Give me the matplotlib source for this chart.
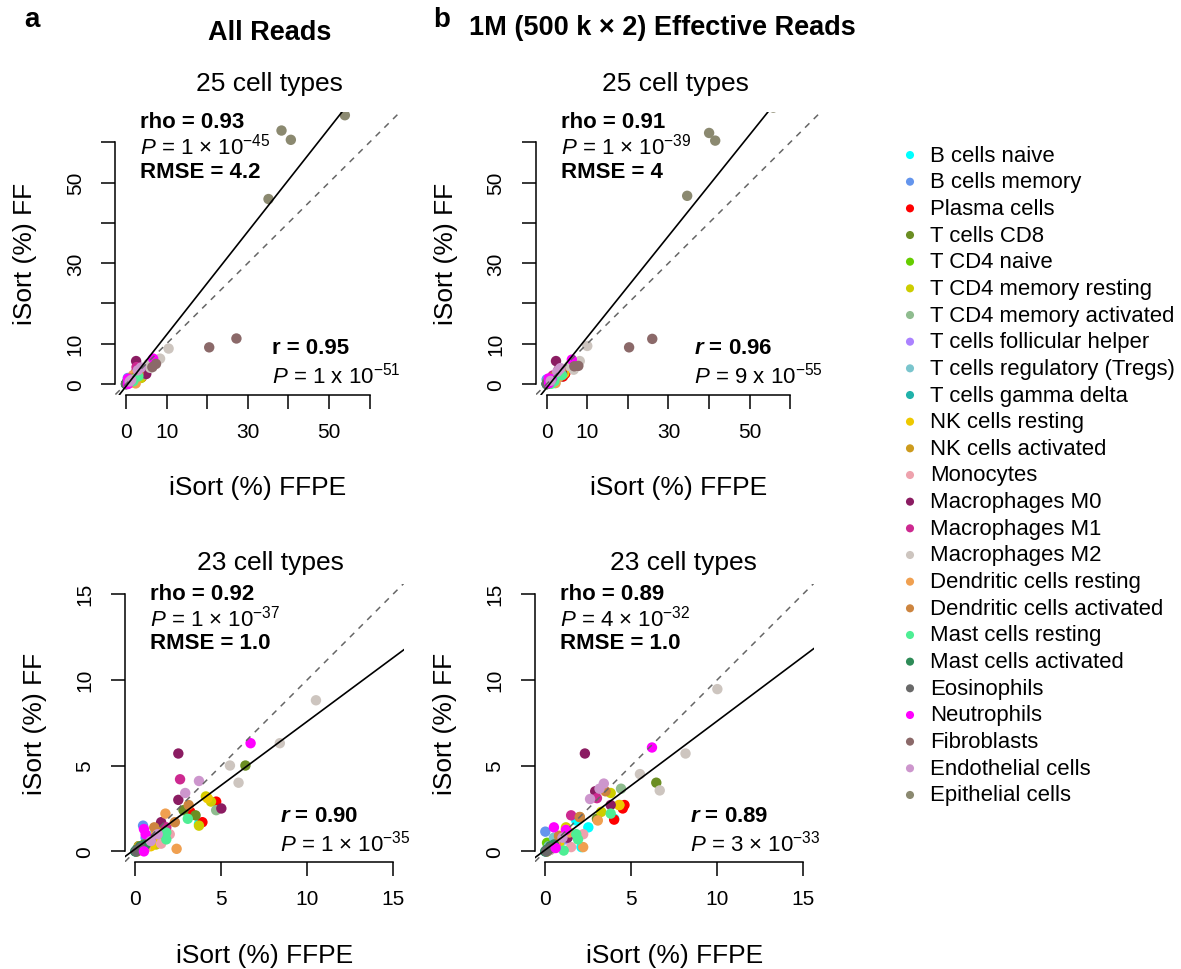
import numpy as np
import matplotlib
matplotlib.use("Agg")
import matplotlib.pyplot as plt

plt.rcParams['font.family'] = ['Liberation Sans', 'DejaVu Sans']
plt.rcParams['mathtext.fontset'] = 'custom'
plt.rcParams['mathtext.rm'] = 'Liberation Sans'
plt.rcParams['mathtext.it'] = 'Liberation Sans:italic'
plt.rcParams['mathtext.bf'] = 'Liberation Sans:bold'
plt.rcParams['mathtext.bfit'] = 'Liberation Sans:italic:bold'

cell_types = ["B cells naive", "B cells memory", "Plasma cells", "T cells CD8",
              "T CD4 naive", "T CD4 memory resting", "T CD4 memory activated",
              "T cells follicular helper", "T cells regulatory (Tregs)",
              "T cells gamma delta", "NK cells resting", "NK cells activated",
              "Monocytes", "Macrophages M0", "Macrophages M1", "Macrophages M2",
              "Dendritic cells resting", "Dendritic cells activated",
              "Mast cells resting", "Mast cells activated", "Eosinophils",
              "Neutrophils", "Fibroblasts", "Endothelial cells", "Epithelial cells"]
colors = ["#00FFFF", "#6495ED", "#FF0000", "#6B8E23", "#66CD00", "#CDCD00",
          "#8FBC8F", "#AB82FF", "#7AC5CD", "#20B2AA", "#EEC900", "#CD9B1D",
          "#EEA2AD", "#8B1C62", "#CD2990", "#CDC5BF", "#F0A050", "#CD853F",
          "#4EEE94", "#2E8B57", "#696969", "#FF00FF", "#8B6969", "#CD96CD",
          "#8B8970"]
# cell types left out of the 23-type panels
dropped = ["Fibroblasts", "Epithelial cells"]

# all reads: iSort (%) FFPE (x) and FF (y), 4 samples per cell type
ffpe_all = [[3.7, 1.0, 0.3, 0.1], [0.45, 0.2, 0.6, 0.1], [4.7, 3.2, 3.9, 0.3],
            [6.4, 2.8, 3.5, 0.5], [0.2, 0.1, 0.4, 0.05], [4.1, 4.4, 3.7, 1.2],
            [4.7, 0.3, 1.5, 0.1], [1.5, 0.8, 0.3, 0.1], [1.0, 0.5, 0.2, 0.1],
            [0.3, 0.1, 0.5, 0.0], [4.2, 1.3, 0.9, 0.3], [1.5, 0.6, 0.2, 0.1],
            [1.5, 0.6, 0.3, 2.0], [2.5, 2.5, 5.0, 1.5], [2.6, 0.9, 0.4, 1.8],
            [10.5, 8.4, 5.5, 6.0], [1.75, 2.4, 0.6, 1.2], [3.1, 2.3, 1.1, 0.4],
            [3.05, 1.8, 1.8, 0.5], [0.3, 0.1, 0.6, 0.0], [0.1, 0.2, 0.05, 0.3],
            [6.7, 0.5, 0.5, 0.6], [27.2, 20.5, 7.4, 6.5], [3.7, 2.9, 1.3, 0.9],
            [53.9, 38.3, 40.6, 35.1]]
ff_all = [[1.6, 0.9, 0.2, 0.05], [1.5, 0.3, 0.8, 0.1], [2.9, 2.3, 1.7, 0.2],
          [5.0, 2.4, 2.1, 0.4], [0.3, 0.1, 0.2, 0.0], [3.2, 2.9, 1.5, 0.4],
          [2.4, 0.3, 0.9, 0.1], [0.8, 0.5, 0.2, 0.1], [0.6, 0.3, 0.2, 0.0],
          [0.1, 0.1, 0.3, 0.0], [3.1, 0.6, 0.3, 0.2], [1.4, 0.4, 0.3, 0.0],
          [0.45, 0.2, 0.1, 1.0], [5.7, 3.0, 2.5, 1.7], [4.2, 0.7, 0.3, 1.4],
          [8.8, 6.3, 5.0, 4.0], [2.2, 0.15, 0.3, 1.1], [2.7, 1.7, 1.4, 0.2],
          [1.9, 1.1, 0.7, 0.3], [0.3, 0.1, 0.4, 0.0], [0.05, 0.1, 0.0, 0.2],
          [6.3, 1.3, 0.0, 1.0], [11.3, 9.1, 5.0, 4.2], [4.1, 3.4, 1.0, 0.6],
          [66.7, 62.9, 60.6, 45.9]]

# 1M effective reads
ffpe_1m = [[2.5, 1.8, 2.1, 4.0], [0.0, 0.3, 0.2, 0.1], [4.6, 4.5, 4.0, 0.3],
           [6.45, 3.0, 0.4, 0.1], [0.1, 0.2, 0.05, 0.3], [3.8, 4.3, 3.25, 1.2],
           [4.4, 0.5, 0.2, 0.1], [1.2, 0.6, 0.3, 0.1], [0.9, 0.5, 0.2, 0.1],
           [0.3, 0.1, 0.5, 0.0], [4.3, 1.2, 0.8, 0.4], [2.0, 0.8, 0.3, 0.1],
           [1.5, 0.6, 0.3, 2.2], [2.3, 2.9, 3.8, 1.3], [3.0, 1.5, 0.6, 0.3],
           [10.0, 8.15, 5.5, 6.65], [3.05, 2.2, 0.6, 1.4], [3.5, 2.0, 0.8, 0.3],
           [3.8, 1.8, 1.9, 1.07], [0.3, 0.1, 0.5, 0.0], [0.1, 0.2, 0.05, 0.3],
           [6.2, 0.5, 1.2, 0.6], [26.0, 20.3, 7.8, 6.8], [3.4, 3.15, 2.6, 1.0],
           [55.8, 40.0, 41.5, 34.6]]
ff_1m = [[1.4, 1.8, 0.25, 1.9], [1.15, 0.5, 0.2, 0.05], [2.7, 2.5, 1.85, 0.2],
         [4.0, 1.9, 0.3, 0.05], [0.5, 0.2, 0.05, 0.3], [3.4, 2.7, 2.3, 1.4],
         [3.65, 0.3, 0.2, 0.0], [0.7, 0.4, 0.15, 0.05], [0.6, 0.8, 0.3, 0.0],
         [0.1, 0.1, 0.3, 0.0], [2.7, 1.3, 0.5, 0.2], [2.0, 0.9, 0.3, 0.0],
         [0.25, 0.2, 0.1, 1.0], [5.7, 3.5, 2.7, 0.8], [3.1, 2.1, 0.4, 0.2],
         [9.45, 5.7, 4.5, 3.55], [1.8, 0.25, 0.4, 1.1], [3.5, 2.0, 0.9, 0.2],
         [2.2, 1.0, 0.7, 0.05], [0.3, 0.1, 0.4, 0.0], [0.05, 0.1, 0.0, 0.2],
         [6.05, 1.4, 1.25, 0.2], [11.2, 9.1, 4.5, 4.4], [3.95, 3.65, 3.05, 0.8],
         [68.6, 62.3, 60.4, 46.7]]

# fitted lines (slope, intercept) and statistics shown on each panel
fits = {"a25": (1.28, -0.58), "b25": (1.256, -0.93),
        "a23": (0.743, 0.145), "b23": (0.751, 0.09)}
stats = {
    "a25": ("0.93", "1 \u00d7 10$^{-45}$", "4.2", "0.95", "1 x 10$^{-51}$", False),
    "b25": ("0.91", "1 \u00d7 10$^{-39}$", "4", "0.96", "9 x 10$^{-55}$", True),
    "a23": ("0.92", "1 \u00d7 10$^{-37}$", "1.0", "0.90", "1 \u00d7 10$^{-35}$", True),
    "b23": ("0.89", "4 \u00d7 10$^{-32}$", "1.0", "0.89", "3 \u00d7 10$^{-33}$", True),
}

W, H = 1181, 970
fig = plt.figure(figsize=(W / 100, H / 100), dpi=100)


def fx(px):
    return px / W


def fy(py):
    return 1 - py / H


def panel(key, box, ffpe, ff, keep, lim, ticks, labels, title_xy, rho_xy, r_xy):
    x0, y0, x1, y1 = box
    ax = fig.add_axes([fx(x0), fy(y1), (x1 - x0) / W, (y1 - y0) / H])
    for i, name in enumerate(cell_types):
        if name not in keep:
            continue
        ax.scatter(ffpe[i], ff[i], s=56, color=colors[i], edgecolors='none',
                   zorder=2)
    ax.axline((0, 0), slope=1, color='#666666', lw=1.1, ls=(0, (4, 4)),
              zorder=3)
    m, b = fits[key]
    ax.axline((0, b), slope=m, color='black', lw=1.2, zorder=4)
    span = lim * 1.08
    ax.set_xlim(-0.04 * lim, lim * 1.04)
    ax.set_ylim(-0.04 * lim, lim * 1.04)
    for s in ['top', 'right']:
        ax.spines[s].set_visible(False)
    for s in ['left', 'bottom']:
        ax.spines[s].set_linewidth(1.1)
        ax.spines[s].set_bounds(ticks[0], ticks[-1])
    ax.set_xticks(ticks)
    ax.set_xticklabels(labels)
    ax.set_yticks(ticks)
    ax.set_yticklabels(labels)
    ax.tick_params(length=10, width=1.1, labelsize=15)
    ax.tick_params(axis='x', pad=10)
    ax.tick_params(axis='y', pad=12, labelrotation=90)
    for lbl in ax.get_yticklabels():
        lbl.set_va('center')
    ax.patch.set_alpha(0)

    # titles and axis labels
    fig.text(fx(title_xy[0]), fy(title_xy[1]), title_xy[2], fontsize=19,
             ha='center', va='center')
    fig.text(fx((x0 + x1) / 2), fy(y1 + 93), "iSort (%) FFPE", fontsize=19,
             ha='center', va='center')
    fig.text(fx(x0 - 90), fy((y0 + y1) / 2), "iSort (%) FF", fontsize=19,
             ha='center', va='center', rotation=90)

    rho, p1, rmse, r, p2, r_italic = stats[key]
    fig.text(fx(rho_xy[0]), fy(rho_xy[1]), "rho = " + rho, fontsize=16,
             fontweight='bold', va='center')
    fig.text(fx(rho_xy[0]), fy(rho_xy[1] + 25), "$P$ = " + p1, fontsize=16,
             va='center')
    fig.text(fx(rho_xy[0]), fy(rho_xy[1] + 50), "RMSE = " + rmse, fontsize=16,
             fontweight='bold', va='center')
    rlab = (r"$\mathbfit{r}$ = " if r_italic else "r = ") + r
    fig.text(fx(r_xy[0]), fy(r_xy[1]), rlab, fontsize=16, fontweight='bold',
             va='center')
    fig.text(fx(r_xy[0]), fy(r_xy[1] + 27), "$P$ = " + p2, fontsize=16,
             va='center')
    return ax


keep25 = cell_types
keep23 = [c for c in cell_types if c not in dropped]
big_ticks = [0, 10, 20, 30, 40, 50, 60]
big_labels = ["0", "10", "", "30", "", "50", ""]
small_ticks = [0, 5, 10, 15]
small_labels = ["0", "5", "10", "15"]

panel("a25", (115.4, 112.6, 400.5, 395.5), ffpe_all, ff_all, keep25, 65,
      big_ticks, big_labels, (269, 84, "25 cell types"), (140, 122), (272, 349))
panel("b25", (536.1, 112.6, 821.2, 395.5), ffpe_1m, ff_1m, keep25, 65,
      big_ticks, big_labels, (675, 84, "25 cell types"), (561, 122), (694, 349))
panel("a23", (125.0, 584.5, 403.7, 862.7), ffpe_all, ff_all, keep23, 15,
      small_ticks, small_labels, (270, 563, "23 cell types"), (150, 594), (280, 817))
panel("b23", (535.0, 584.5, 813.7, 862.7), ffpe_1m, ff_1m, keep23, 15,
      small_ticks, small_labels, (683, 563, "23 cell types"), (560, 594), (690, 817))

# headings
fig.text(fx(32), fy(20), "a", fontsize=20, fontweight='bold', ha='center',
         va='center')
fig.text(fx(442), fy(20), "b", fontsize=20, fontweight='bold', ha='center',
         va='center')
fig.text(fx(270), fy(33), "All Reads", fontsize=19.5, fontweight='bold',
         ha='center', va='center')
fig.text(fx(662), fy(28), "1M (500 k \u00d7 2) Effective Reads", fontsize=19.5,
         fontweight='bold', ha='center', va='center')

# legend
leg = fig.add_axes([fx(900), fy(809.3), (W - 900) / W, (809.3 - 142.7) / H])
leg.set_xlim(0, W - 900)
leg.set_ylim(len(cell_types) - 0.5, -0.5)
leg.axis('off')
rows = np.arange(len(cell_types))
leg.scatter(np.full(len(rows), 10), rows, s=34, c=colors, edgecolors='none')
for i, name in enumerate(cell_types):
    leg.text(30, i, name, fontsize=15.9, va='center', ha='left')

fig.savefig("out.png", dpi=100)
